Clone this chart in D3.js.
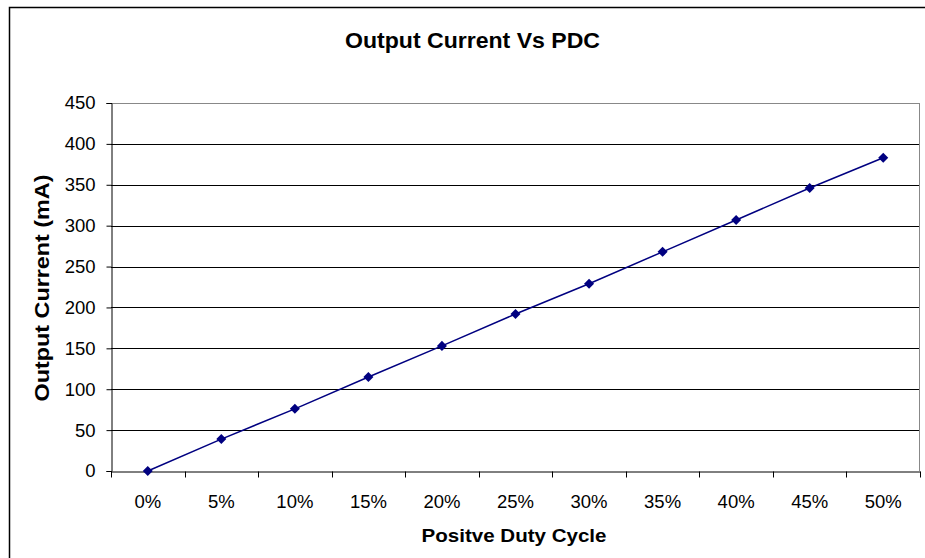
<html>
<head>
<script src="https://cdn.jsdelivr.net/npm/d3@7"></script>
<style>
  body { margin: 0; background: #fff; }
  text { font-family: "Liberation Sans", Arial, sans-serif; }
</style>
</head>
<body>
<script>
// data
var categories = ["0%", "5%", "10%", "15%", "20%", "25%", "30%", "35%", "40%", "45%", "50%"];
var currentValues = [0, 39, 76, 115, 153, 192, 229, 268, 307, 346, 383];
var yTicks = [0, 50, 100, 150, 200, 250, 300, 350, 400, 450];

var W = 925, H = 558;
var margin = {top: 103, left: 111, right: 5, bottom: 87};
var width = W - margin.left - margin.right,
    height = H - margin.top - margin.bottom;

var svg = d3.select("body").append("svg")
  .attr("width", W).attr("height", H);

// outer chart border
svg.append("rect")
  .attr("x", 9.5).attr("y", 7.5)
  .attr("width", W).attr("height", H)
  .attr("fill", "none").attr("stroke", "#000").attr("stroke-width", 1.5);

var g = svg.append("g")
  .attr("transform", "translate(" + margin.left + "," + margin.top + ")");

var x = d3.scaleBand().domain(categories).range([0, width]);
var y = d3.scaleLinear().domain([0, 450]).range([height, 0]);

// gridlines
g.selectAll(".grid").data(yTicks.slice(1)).enter().append("line")
  .attr("x1", 0).attr("x2", width)
  .attr("y1", function(d){ return Math.round(y(d)) + 0.5; })
  .attr("y2", function(d){ return Math.round(y(d)) + 0.5; })
  .attr("stroke", function(d){ return d == 450 ? "#888" : "#000"; })
  .attr("stroke-width", 1);

// right border of plot area
g.append("line")
  .attr("x1", width - 0.5).attr("x2", width - 0.5)
  .attr("y1", 0).attr("y2", height)
  .attr("stroke", "#888");

// y axis
var yAxis = g.append("g")
  .attr("transform", "translate(0.5,0)")
  .call(d3.axisLeft(y).tickValues(yTicks).tickSize(5).tickPadding(11));
yAxis.selectAll("text").attr("font-size", 18.5).attr("fill", "#000")
  .style("font-family", '"Liberation Sans", Arial, sans-serif');
yAxis.selectAll("line, path").attr("stroke", "#000");

// x axis, ticks between categories
var xAxis = g.append("g")
  .attr("transform", "translate(0," + (Math.round(height) + 0.5) + ")")
  .call(d3.axisBottom(x).tickSize(0).tickPadding(23));
xAxis.select(".domain").attr("stroke", "#000");
xAxis.selectAll("text").attr("font-size", 18.5).attr("fill", "#000")
  .style("font-family", '"Liberation Sans", Arial, sans-serif');
xAxis.selectAll(".sep").data(d3.range(categories.length + 1)).enter().append("line")
  .attr("x1", function(i){ return Math.round(i * x.step()) + 0.5; })
  .attr("x2", function(i){ return Math.round(i * x.step()) + 0.5; })
  .attr("y1", 0).attr("y2", 6)
  .attr("stroke", "#000");

// series
var line = d3.line()
  .x(function(d, i){ return x(categories[i]) + x.bandwidth() / 2; })
  .y(function(d){ return y(d); });

g.append("path")
  .datum(currentValues)
  .attr("d", line)
  .attr("fill", "none")
  .attr("stroke", "#000080")
  .attr("stroke-width", 1.5);

g.selectAll(".pt").data(currentValues).enter().append("path")
  .attr("d", d3.symbol().type(d3.symbolDiamond2).size(64))
  .attr("transform", function(d, i){
    return "translate(" + (x(categories[i]) + x.bandwidth() / 2) + "," + y(d) + ")";
  })
  .attr("fill", "#000080");

// titles
svg.append("text")
  .attr("x", 472.5).attr("y", 48)
  .attr("text-anchor", "middle")
  .attr("font-size", 21.5).attr("font-weight", "bold")
  .attr("textLength", 255).attr("lengthAdjust", "spacingAndGlyphs")
  .text("Output Current Vs PDC");

svg.append("text")
  .attr("x", 514).attr("y", 542)
  .attr("text-anchor", "middle")
  .attr("font-size", 19).attr("font-weight", "bold")
  .attr("textLength", 185).attr("lengthAdjust", "spacingAndGlyphs")
  .text("Positve Duty Cycle");

svg.append("text")
  .attr("transform", "translate(49,288) rotate(-90)")
  .attr("text-anchor", "middle")
  .attr("font-size", 20).attr("font-weight", "bold")
  .attr("textLength", 227).attr("lengthAdjust", "spacingAndGlyphs")
  .text("Output Current (mA)");
</script>
</body>
</html>
